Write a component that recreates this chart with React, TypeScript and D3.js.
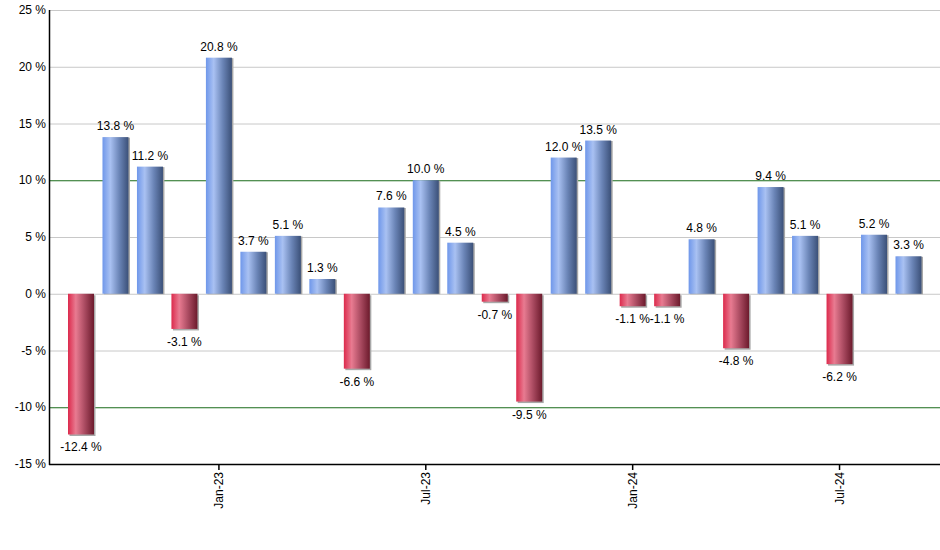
import React from "react";
import * as d3 from "d3";

const months = [
  "Sep-22", "Oct-22", "Nov-22", "Dec-22", "Jan-23", "Feb-23", "Mar-23", "Apr-23", "May-23",
  "Jun-23", "Jul-23", "Aug-23", "Sep-23", "Oct-23", "Nov-23", "Dec-23", "Jan-24", "Feb-24",
  "Mar-24", "Apr-24", "May-24", "Jun-24", "Jul-24", "Aug-24", "Sep-24",
];
const returns = [
  -12.4, 13.8, 11.2, -3.1, 20.8, 3.7, 5.1, 1.3, -6.6, 7.6, 10.0, 4.5, -0.7,
  -9.5, 12.0, 13.5, -1.1, -1.1, 4.8, -4.8, 9.4, 5.1, -6.2, 5.2, 3.3,
];
const xTickLabels = ["Jan-23", "Jul-23", "Jan-24", "Jul-24"];
const yTicks = [-15, -10, -5, 0, 5, 10, 15, 20, 25];

const W = 940, H = 550;
const left = 50, top = 10, bottom = 464;
const font = "Liberation Sans, Arial, sans-serif";

const App = () => {
  const ref = React.useRef<SVGSVGElement>(null);

  React.useEffect(() => {
    const svg = d3.select(ref.current);
    svg.selectAll("*").remove();

    const x = d3.scaleBand(months, [68, 921.5]).paddingInner(0.246).paddingOuter(0);
    const y = d3.scaleLinear([-15, 25], [bottom, top]);

    const defs = svg.append("defs");
    const grad = (id, stops) => {
      const g = defs.append("linearGradient").attr("id", id).attr("x1", "0").attr("x2", "1").attr("y1", "0").attr("y2", "0");
      stops.forEach(([o, c]) => g.append("stop").attr("offset", o).attr("stop-color", c));
    };
    grad("gPos", [[0, "#6f97ea"], [0.3, "#a9c1f2"], [0.65, "#6a84b6"], [1, "#3b5078"]]);
    grad("gNeg", [[0, "#dc2a4c"], [0.3, "#e87b91"], [0.65, "#a94a60"], [1, "#6c1a2c"]]);

    // grid
    svg.append("g").selectAll("line").data(yTicks.filter(t => t !== -15)).join("line")
      .attr("x1", left).attr("x2", W)
      .attr("y1", d => y(d) + 0.5).attr("y2", d => y(d) + 0.5)
      .attr("stroke", d => Math.abs(d) === 10 ? "#1a6b1a" : "#c8c8c8")
      .attr("stroke-width", 1);

    // y labels
    svg.append("g").selectAll("text").data(yTicks).join("text")
      .attr("x", left - 4).attr("y", d => y(d) + 4)
      .attr("text-anchor", "end")
      .attr("font-family", font).attr("font-size", 12)
      .attr("fill", "#000")
      .text(d => `${d} %`);

    const bars = svg.append("g");
    // shadows
    bars.selectAll("rect.sh").data(returns).join("rect").attr("class", "sh")
      .attr("x", (d, i) => x(months[i]) + 1.5)
      .attr("y", d => Math.min(y(d), y(0)) + (d < 0 ? 1.5 : 0.5))
      .attr("width", x.bandwidth())
      .attr("height", d => Math.abs(y(d) - y(0)))
      .attr("fill", "#a8a8a8");
    bars.selectAll("rect.bar").data(returns).join("rect").attr("class", "bar")
      .attr("x", (d, i) => x(months[i]))
      .attr("y", d => Math.min(y(d), y(0)))
      .attr("width", x.bandwidth())
      .attr("height", d => Math.abs(y(d) - y(0)))
      .attr("fill", d => d >= 0 ? "url(#gPos)" : "url(#gNeg)");

    // value labels
    svg.append("g").selectAll("text").data(returns).join("text")
      .attr("x", (d, i) => x(months[i]) + x.bandwidth() / 2)
      .attr("y", d => d >= 0 ? y(d) - 7 : y(d) + 17)
      .attr("text-anchor", "middle")
      .attr("font-family", font).attr("font-size", 12)
      .attr("fill", "#000")
      .text(d => `${d.toFixed(1)} %`);

    // axes lines
    svg.append("line").attr("x1", left - 0.5).attr("x2", left - 0.5).attr("y1", top).attr("y2", bottom + 1)
      .attr("stroke", "#000").attr("stroke-width", 1.5);
    svg.append("line").attr("x1", left - 1).attr("x2", W).attr("y1", bottom + 0.5).attr("y2", bottom + 0.5)
      .attr("stroke", "#000").attr("stroke-width", 1.5);

    // x ticks
    const xt = svg.append("g").selectAll("g").data(xTickLabels).join("g")
      .attr("transform", d => `translate(${x(d) + x.bandwidth() / 2},${bottom})`);
    xt.append("line").attr("y1", 0).attr("y2", 6).attr("stroke", "#000").attr("stroke-width", 1.5);
    xt.append("text")
      .attr("transform", "translate(4,8) rotate(-90)")
      .attr("text-anchor", "end")
      .attr("font-family", font).attr("font-size", 12)
      .attr("fill", "#000")
      .text(d => d);
  }, []);

  return <svg width={W} height={H} ref={ref} style={{ position: "absolute", left: 0, top: 0 }} />;
};

export default App;
